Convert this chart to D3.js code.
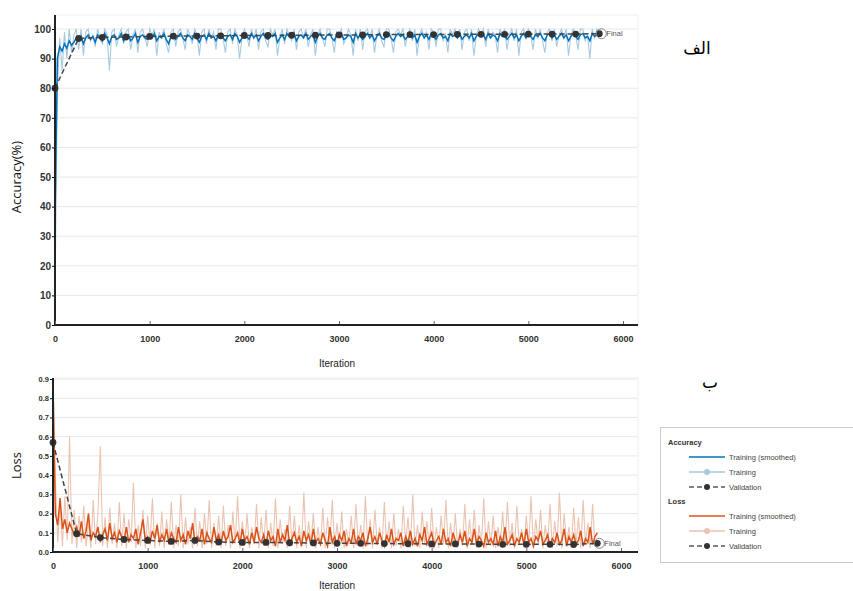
<!DOCTYPE html>
<html>
<head>
<meta charset="utf-8">
<script src="https://cdn.jsdelivr.net/npm/d3@7"></script>
<style>
  body { margin: 0; background: #fff; }
  svg { font-family: "Liberation Sans", Arial, sans-serif; }
  .tick text { font-weight: bold; fill: #333; }
</style>
</head>
<body>
<div id="graph"></div>
<script>
// iteration step between logged training values, validation every 250
const step = 25;
const valStep = 250;
const xTicks = [0, 1000, 2000, 3000, 4000, 5000, 6000];
const accTicks = [0, 10, 20, 30, 40, 50, 60, 70, 80, 90, 100];
const lossTicks = [0, 0.1, 0.2, 0.3, 0.4, 0.5, 0.6, 0.7, 0.8, 0.9];

const accSmooth = [
  35, 90, 94, 92.5, 95, 93.5, 96, 94.5, 95.5, 97,
  96, 97.5, 95, 97, 98, 96.5, 97.5, 95.5, 98, 97,
  96, 98.5, 97, 95, 97.5, 98, 96.5, 97, 98.5, 96,
  97.5, 98, 96, 97, 98.5, 95.5, 97.5, 98, 97, 96.5,
  98, 97, 98.5, 96, 97.5, 97, 98.5, 96.5, 95, 97.5,
  98, 96.5, 97.5, 98.5, 97, 96, 98, 97.5, 96.5, 98.5,
  97, 95.5, 97.5, 98, 96.5, 98.5, 97, 97.5, 96, 98,
  98.5, 97, 96, 97.5, 98, 96.5, 98.5, 97.5, 95.5, 97,
  98, 97.5, 96.5, 98.5, 97, 98, 96, 97.5, 98.5, 97,
  96.5, 98, 97.5, 98.5, 95.5, 97, 98, 96.5, 98.5, 97.5,
  97, 98.5, 96, 97.5, 98, 97, 98.5, 96.5, 97.5, 98,
  95.5, 97.5, 98.5, 97, 96.5, 98, 98.5, 97, 96, 98,
  97.5, 98.5, 96.5, 97, 98, 97.5, 95.5, 98.5, 97, 98,
  96.5, 97.5, 98.5, 97, 98, 96, 97.5, 98.5, 97, 96.5,
  98, 98.5, 97, 96, 97.5, 98.5, 97.5, 98, 96.5, 97.5,
  98.5, 97, 98, 95.5, 97.5, 98.5, 97, 98, 96.5, 98.5,
  97.5, 96.5, 98, 98.5, 97, 97.5, 96, 98.5, 97.5, 98,
  97, 98.5, 96.5, 97.5, 98, 97, 98.5, 96, 97.5, 98.5,
  97.5, 98, 96.5, 98.5, 97, 98, 97.5, 96, 98.5, 97.5,
  98, 96.5, 97.5, 98.5, 97, 98, 96, 97.5, 98.5, 97,
  98.5, 97.5, 96.5, 98, 97.5, 98.5, 97, 96, 98, 98.5,
  97, 98, 96.5, 97.5, 98.5, 97, 98, 96, 97.5, 98.5,
  97.5, 96.5, 98, 98.5, 97, 97.5, 96, 98.5, 97.5, 98,
  97.5
];
const accRaw = [
  10, 80, 97, 86, 99, 90, 100, 92, 98, 100,
  93, 100, 91, 99, 100, 96, 98, 94, 100, 97,
  95, 100, 98, 86, 99, 100, 94, 98, 100, 95,
  99, 100, 93, 98, 100, 92, 99, 100, 97, 94,
  100, 98, 100, 91, 99, 97, 100, 95, 92, 99,
  100, 94, 99, 100, 97, 93, 100, 98, 95, 100,
  98, 91, 99, 100, 95, 100, 97, 99, 93, 100,
  100, 97, 92, 99, 100, 95, 100, 98, 90, 97,
  100, 98, 94, 100, 97, 100, 93, 99, 100, 96,
  94, 100, 98, 100, 91, 97, 100, 95, 100, 98,
  96, 100, 93, 99, 100, 97, 100, 94, 98, 100,
  91, 98, 100, 97, 94, 100, 100, 97, 92, 99,
  98, 100, 95, 97, 100, 98, 91, 100, 96, 100,
  93, 99, 100, 97, 100, 92, 98, 100, 96, 94,
  100, 100, 97, 92, 99, 100, 98, 100, 94, 98,
  100, 96, 100, 91, 98, 100, 97, 99, 93, 100,
  99, 94, 100, 100, 96, 98, 92, 100, 98, 100,
  97, 100, 93, 99, 100, 96, 100, 91, 98, 100,
  98, 100, 94, 100, 97, 99, 98, 92, 100, 98,
  100, 93, 98, 100, 96, 100, 91, 99, 100, 97,
  100, 98, 93, 100, 97, 100, 96, 92, 99, 100,
  96, 100, 94, 98, 100, 97, 100, 91, 98, 100,
  98, 93, 100, 100, 96, 98, 90, 100, 97, 100,
  98
];
const accVal = [80, 96.8, 97.2, 97.3, 97.5, 97.6, 97.6, 97.7, 97.8, 97.8, 97.9, 97.9,
  98.0, 98.0, 98.1, 98.1, 98.1, 98.2, 98.2, 98.2, 98.3, 98.3, 98.3, 98.4];

const lossSmooth = [
  0.87, 0.2, 0.14, 0.28, 0.12, 0.17, 0.1, 0.15, 0.12, 0.09,
  0.13, 0.08, 0.16, 0.07, 0.11, 0.2, 0.06, 0.1, 0.08, 0.13,
  0.05, 0.09, 0.12, 0.06, 0.15, 0.07, 0.1, 0.05, 0.11, 0.08,
  0.06, 0.13, 0.05, 0.09, 0.07, 0.12, 0.04, 0.1, 0.17, 0.06,
  0.08, 0.05, 0.11, 0.07, 0.14, 0.05, 0.09, 0.06, 0.12, 0.04,
  0.1, 0.07, 0.05, 0.13, 0.06, 0.09, 0.04, 0.11, 0.07, 0.15,
  0.05, 0.08, 0.06, 0.12, 0.04, 0.1, 0.07, 0.05, 0.13, 0.06,
  0.09, 0.04, 0.11, 0.06, 0.08, 0.14, 0.05, 0.07, 0.1, 0.04,
  0.12, 0.06, 0.08, 0.04, 0.1, 0.05, 0.13, 0.07, 0.05, 0.09,
  0.04, 0.11, 0.06, 0.08, 0.03, 0.12, 0.05, 0.09, 0.06, 0.14,
  0.04, 0.07, 0.1, 0.05, 0.08, 0.03, 0.11, 0.06, 0.09, 0.04,
  0.12, 0.05, 0.07, 0.04, 0.1, 0.06, 0.03, 0.13, 0.05, 0.08,
  0.04, 0.09, 0.06, 0.11, 0.03, 0.07, 0.05, 0.12, 0.04, 0.08,
  0.06, 0.1, 0.03, 0.07, 0.13, 0.05, 0.08, 0.04, 0.1, 0.06,
  0.03, 0.09, 0.05, 0.12, 0.04, 0.07, 0.06, 0.1, 0.03, 0.08,
  0.05, 0.11, 0.04, 0.07, 0.03, 0.09, 0.06, 0.13, 0.04, 0.07,
  0.1, 0.03, 0.06, 0.08, 0.04, 0.12, 0.05, 0.07, 0.03, 0.1,
  0.06, 0.04, 0.09, 0.05, 0.11, 0.03, 0.07, 0.05, 0.12, 0.04,
  0.08, 0.06, 0.03, 0.1, 0.05, 0.07, 0.04, 0.11, 0.03, 0.08,
  0.05, 0.13, 0.04, 0.06, 0.09, 0.03, 0.07, 0.05, 0.1, 0.04,
  0.12, 0.05, 0.07, 0.03, 0.08, 0.06, 0.11, 0.04, 0.06, 0.09,
  0.03, 0.07, 0.05, 0.1, 0.04, 0.06, 0.12, 0.03, 0.08, 0.05,
  0.09, 0.04, 0.06, 0.11, 0.03, 0.07, 0.05, 0.13, 0.04, 0.08,
  0.1
];
const lossRaw = [
  0.9, 0.38, 0.05, 0.25, 0.03, 0.29, 0.06, 0.6, 0.04, 0.22,
  0.02, 0.19, 0.05, 0.24, 0.03, 0.16, 0.02, 0.27, 0.04, 0.21,
  0.55, 0.03, 0.18, 0.02, 0.23, 0.04, 0.15, 0.02, 0.26, 0.03,
  0.2, 0.02, 0.17, 0.05, 0.36, 0.02, 0.14, 0.03, 0.22, 0.02,
  0.19, 0.04, 0.28, 0.02, 0.15, 0.03, 0.21, 0.02, 0.17, 0.05,
  0.26, 0.02, 0.14, 0.03, 0.3, 0.02, 0.18, 0.04, 0.13, 0.02,
  0.23, 0.03, 0.16, 0.02, 0.2, 0.04, 0.27, 0.02, 0.15, 0.03,
  0.19, 0.02, 0.24, 0.03, 0.14, 0.02, 0.21, 0.04, 0.29, 0.02,
  0.16, 0.03, 0.2, 0.02, 0.13, 0.04, 0.25, 0.02, 0.18, 0.03,
  0.22, 0.02, 0.15, 0.03, 0.28, 0.02, 0.17, 0.04, 0.12, 0.02,
  0.24, 0.03, 0.19, 0.02, 0.14, 0.03, 0.31, 0.02, 0.16, 0.04,
  0.2, 0.02, 0.13, 0.03, 0.23, 0.02, 0.18, 0.04, 0.27, 0.02,
  0.15, 0.03, 0.21, 0.02, 0.12, 0.04, 0.19, 0.02, 0.25, 0.03,
  0.14, 0.02, 0.29, 0.03, 0.17, 0.02, 0.22, 0.04, 0.13, 0.02,
  0.26, 0.03, 0.16, 0.02, 0.2, 0.03, 0.12, 0.02, 0.24, 0.04,
  0.18, 0.02, 0.3, 0.03, 0.14, 0.02, 0.21, 0.04, 0.16, 0.02,
  0.23, 0.03, 0.13, 0.02, 0.19, 0.04, 0.27, 0.02, 0.15, 0.03,
  0.2, 0.02, 0.12, 0.03, 0.25, 0.02, 0.17, 0.04, 0.22, 0.02,
  0.14, 0.03, 0.28, 0.02, 0.16, 0.03, 0.19, 0.02, 0.13, 0.04,
  0.21, 0.02, 0.26, 0.03, 0.15, 0.02, 0.24, 0.04, 0.12, 0.02,
  0.19, 0.03, 0.29, 0.02, 0.17, 0.04, 0.22, 0.02, 0.14, 0.03,
  0.25, 0.02, 0.16, 0.03, 0.31, 0.02, 0.2, 0.04, 0.13, 0.02,
  0.23, 0.03, 0.18, 0.02, 0.27, 0.04, 0.15, 0.02, 0.25, 0.03,
  0.04
];
const lossVal = [0.57, 0.095, 0.075, 0.065, 0.06, 0.055, 0.06, 0.052, 0.05, 0.05, 0.048, 0.047,
  0.045, 0.045, 0.044, 0.043, 0.042, 0.042, 0.041, 0.04, 0.04, 0.04, 0.039, 0.045];

const colors = {
  accSmooth: '#0072bd', accRaw: '#a7c9e2',
  lossSmooth: '#d95319', lossRaw: '#ebc3b1',
  val: '#333333'
};

const width = 853, height = 591;
const svg = d3.select('#graph').append('svg')
  .attr('width', width).attr('height', height);

function panel(opts) {
  const g = svg.append('g');
  const x = d3.scaleLinear().domain([0, 6000]).range([opts.left, opts.right]);
  const y = d3.scaleLinear().domain([0, opts.yMax]).range([opts.bottom, opts.top]);

  // grid
  g.selectAll('.grid').data(opts.yTicks.slice(1)).enter().append('line')
    .attr('x1', opts.left).attr('x2', opts.boxRight)
    .attr('y1', d => y(d)).attr('y2', d => y(d))
    .attr('stroke', '#e8e8e8').attr('stroke-width', 1);
  g.append('line').attr('x1', opts.left).attr('x2', opts.boxRight)
    .attr('y1', opts.axisTop).attr('y2', opts.axisTop).attr('stroke', '#f0f0f0');
  g.append('line').attr('x1', opts.boxRight).attr('x2', opts.boxRight)
    .attr('y1', opts.axisTop).attr('y2', opts.bottom).attr('stroke', '#f0f0f0');

  const line = d3.line().x((d, i) => x(i * step)).y(d => y(Math.min(d, opts.yMax)));
  g.append('path').datum(opts.raw).attr('d', line)
    .attr('fill', 'none').attr('stroke', opts.rawColor).attr('stroke-width', 1.1);
  g.append('path').datum(opts.smooth).attr('d', line)
    .attr('fill', 'none').attr('stroke', opts.smoothColor).attr('stroke-width', 1.5);

  // validation
  const vline = d3.line().x((d, i) => x(i * valStep)).y(d => y(d));
  g.append('path').datum(opts.val).attr('d', vline)
    .attr('fill', 'none').attr('stroke', '#444').attr('stroke-width', 1.5)
    .attr('stroke-dasharray', '5,3');
  g.selectAll('.vdot').data(opts.val).enter().append('circle')
    .attr('cx', (d, i) => x(i * valStep)).attr('cy', d => y(d))
    .attr('r', 3.4).attr('fill', colors.val);

  // final marker
  const last = opts.val.length - 1;
  const fx = x(last * valStep), fy = y(opts.val[last]);
  g.append('circle').attr('cx', fx + 2).attr('cy', fy).attr('r', 5)
    .attr('fill', 'none').attr('stroke', '#888').attr('stroke-width', 1);
  g.append('text').attr('x', fx + 7).attr('y', fy + 2.5)
    .attr('font-size', 7.5).attr('fill', '#555').text('Final');

  // axes
  const yAxis = d3.axisLeft(y).tickValues(opts.yTicks).tickSize(3).tickFormat(opts.yFormat);
  g.append('g').attr('transform', 'translate(' + opts.left + ',0)').call(yAxis)
    .call(a => a.select('.domain').remove())
    .call(a => a.selectAll('text').attr('font-size', opts.yFont).attr('x', -4));
  g.append('line').attr('x1', opts.left).attr('x2', opts.left)
    .attr('y1', opts.axisTop).attr('y2', opts.bottom + 1)
    .attr('stroke', '#222').attr('stroke-width', 2);

  const xAxis = d3.axisBottom(x).tickValues(xTicks).tickSize(-4).tickFormat(d3.format('d'));
  g.append('g').attr('transform', 'translate(0,' + opts.bottom + ')').call(xAxis)
    .call(a => a.select('.domain').remove())
    .call(a => a.selectAll('line').attr('stroke', '#666'))
    .call(a => a.selectAll('text').attr('font-size', 9).attr('dy', '1.5em'));
  g.append('line').attr('x1', opts.left - 1).attr('x2', opts.boxRight)
    .attr('y1', opts.bottom).attr('y2', opts.bottom)
    .attr('stroke', '#222').attr('stroke-width', 2);

  g.append('text').attr('x', 337).attr('y', opts.bottom + opts.labelOffset)
    .attr('text-anchor', 'middle').attr('font-size', 10).attr('fill', '#222').text('Iteration');
  g.append('text')
    .attr('transform', 'translate(21,' + ((opts.top + opts.bottom) / 2) + ') rotate(-90)')
    .attr('text-anchor', 'middle').attr('font-size', 13).attr('fill', '#111')
    .attr('font-family', 'Open Sans, sans-serif').text(opts.yLabel);
}

panel({
  left: 55, right: 623, boxRight: 638, top: 29, bottom: 325, axisTop: 15, labelOffset: 42,
  yMax: 100, yTicks: accTicks, yFormat: d3.format('d'), yFont: 10,
  raw: accRaw, smooth: accSmooth, val: accVal,
  rawColor: colors.accRaw, smoothColor: colors.accSmooth, yLabel: 'Accuracy(%)'
});
panel({
  left: 53, right: 621, boxRight: 638, top: 379, bottom: 552, axisTop: 378, labelOffset: 37,
  yMax: 0.9, yTicks: lossTicks, yFormat: d3.format('.1f'), yFont: 7.5,
  raw: lossRaw, smooth: lossSmooth, val: lossVal,
  rawColor: colors.lossRaw, smoothColor: colors.lossSmooth, yLabel: 'Loss'
});

// panel letters
svg.append('text').attr('x', 697).attr('y', 54).attr('text-anchor', 'middle')
  .attr('font-size', 17).attr('font-family', 'DejaVu Sans, sans-serif').text('الف');
svg.append('text').attr('x', 710).attr('y', 388).attr('text-anchor', 'middle')
  .attr('font-size', 17).attr('font-family', 'DejaVu Sans, sans-serif').text('ب');

// legend
const legend = svg.append('g');
legend.append('rect').attr('x', 660.5).attr('y', 427.5).attr('width', 200).attr('height', 135)
  .attr('fill', '#fff').attr('stroke', '#ccc');
const legendRows = [
  { group: 'Accuracy', y: 442 },
  { label: 'Training (smoothed)', y: 457, color: colors.accSmooth },
  { label: 'Training', y: 472, color: colors.accRaw, dot: true },
  { label: 'Validation', y: 487, color: colors.val, dot: true, dash: true },
  { group: 'Loss', y: 501 },
  { label: 'Training (smoothed)', y: 516, color: colors.lossSmooth },
  { label: 'Training', y: 531, color: colors.lossRaw, dot: true },
  { label: 'Validation', y: 546, color: colors.val, dot: true, dash: true }
];
legendRows.forEach(r => {
  if (r.group) {
    legend.append('text').attr('x', 668).attr('y', r.y + 3).attr('font-size', 7.5)
      .attr('font-weight', 'bold').attr('fill', '#333').text(r.group);
    return;
  }
  legend.append('line').attr('x1', 689).attr('x2', 725).attr('y1', r.y).attr('y2', r.y)
    .attr('stroke', r.dash ? '#555' : r.color).attr('stroke-width', 1.5)
    .attr('stroke-dasharray', r.dash ? '5,3' : null);
  if (r.dot) legend.append('circle').attr('cx', 707).attr('cy', r.y).attr('r', 3).attr('fill', r.color);
  legend.append('text').attr('x', 729).attr('y', r.y + 3).attr('font-size', 7.5)
    .attr('fill', '#444').text(r.label);
});
</script>
</body>
</html>
